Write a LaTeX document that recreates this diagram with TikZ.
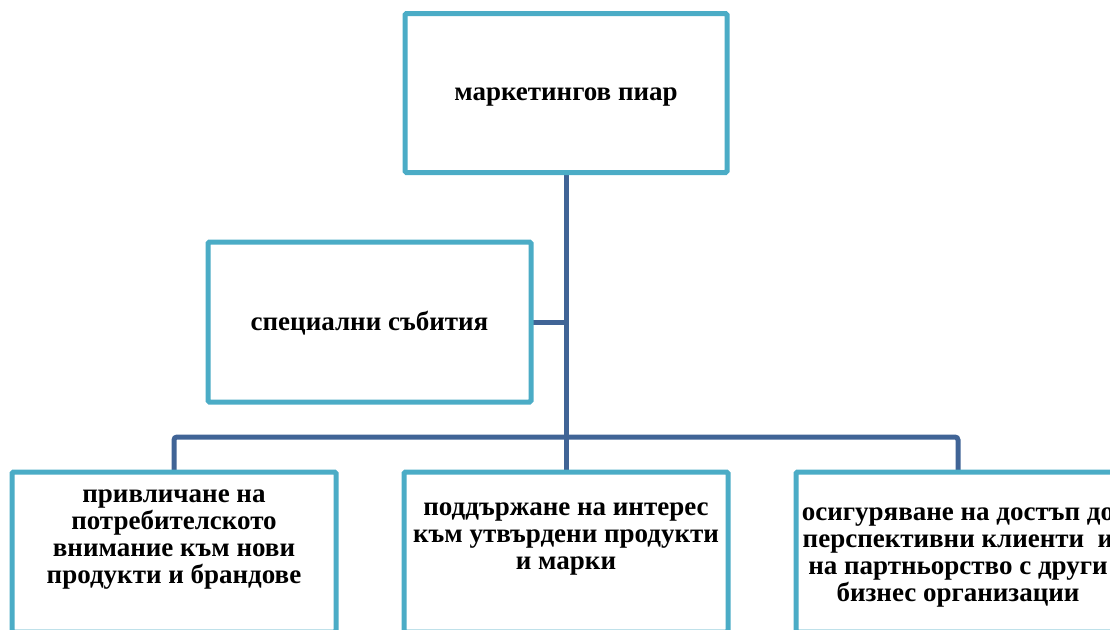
\documentclass[tikz,border=0pt]{standalone}
\usepackage{fontspec}
\setmainfont{Liberation Serif}
\definecolor{boxcol}{RGB}{75,172,198}
\definecolor{linecol}{RGB}{64,100,150}
\tikzset{
  orgbox/.style={draw=boxcol, line width=5pt, fill=white, rounded corners=1.5pt,
    minimum width=322pt, minimum height=159pt, inner sep=0pt},
  lbl/.style={inner sep=0pt, align=center, anchor=north,
    font=\bfseries\fontsize{27}{27}\selectfont},
  conn/.style={draw=linecol, line width=5pt}
}
\begin{document}
\begin{tikzpicture}[x=1pt,y=-1pt]
\useasboundingbox (0,0) rectangle (1110,629);
\clip (0,0) rectangle (1110,629);
% connectors (drawn first, boxes cover their ends)
\coordinate (tp) at (566,172);
\coordinate (evx) at (531,322);
\coordinate (n1) at (174,472);
\coordinate (n2) at (566,472);
\coordinate (n3) at (958,472);
\draw[conn] (tp) -- (n2);
\draw[conn] (evx) -- (evx -| tp);
\draw[conn, rounded corners=3pt] (n1) -- ++(0,-35) -| (n3);
% boxes
\node[orgbox] (top) at (566,93) {};
\node[orgbox, minimum width=323pt, minimum height=160pt] (ev) at (369.5,322) {};
\node[orgbox, minimum width=324pt, minimum height=160pt] (b1) at (174,552) {};
\node[orgbox, minimum width=324pt, minimum height=160pt] (b2) at (566,552) {};
\node[orgbox, minimum width=324pt, minimum height=160pt] (b3) at (958,552) {};
% texts
\node[lbl, anchor=base] (t0) at (566,100) {маркетингов пиар};
\node[lbl, anchor=base] (te) at (369.5,330) {специални събития};
\node[lbl] (t1) at (174,490) {привличане на\\потребителското\\внимание към нови\\продукти и брандове};
\node[lbl] (t2) at (566,502.5) {поддържане на интерес\\към утвърдени продукти\\и марки};
\node[lbl] (t3) at (958,507.5) {осигуряване на достъп до\\перспективни клиенти~ и\\на партньорство с други\\бизнес организации};
\end{tikzpicture}
\end{document}
